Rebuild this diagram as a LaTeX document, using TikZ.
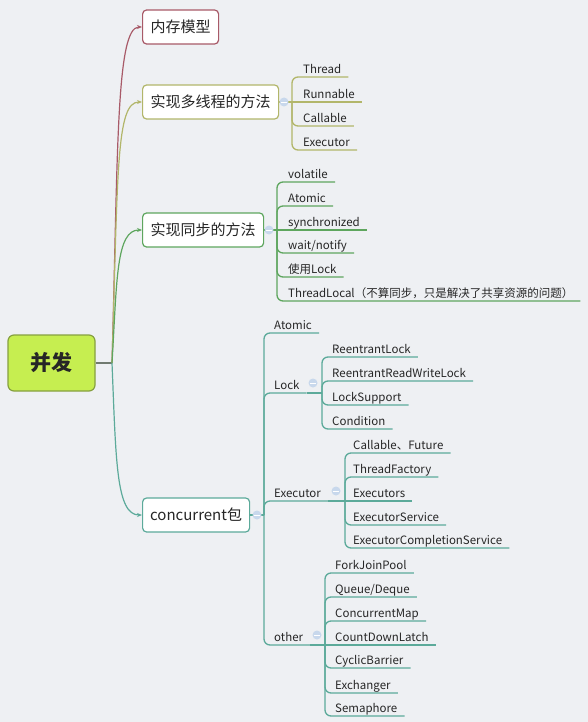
\documentclass[tikz,border=0pt]{standalone}
\usepackage{fontspec}
\setmainfont{Noto Sans CJK SC}
\usetikzlibrary{arrows.meta}
\definecolor{bg}{HTML}{EEF0F3}
\definecolor{txt}{HTML}{262626}
\definecolor{cred}{HTML}{A85A68}
\definecolor{colive}{HTML}{B2B66A}
\definecolor{cgreen}{HTML}{5EA65E}
\definecolor{cteal}{HTML}{5CAA9A}
\definecolor{rootfill}{HTML}{C6EE50}
\definecolor{rootdraw}{HTML}{86A040}
\definecolor{foldc}{HTML}{C8D8EC}
\definecolor{cgray}{HTML}{707A70}
\tikzset{
  mainbox/.style={draw, rounded corners=4pt, line width=1.2pt, fill=white, minimum height=34pt, anchor=west, font=\fontsize{15}{15}\selectfont, text=txt, inner sep=3pt},
  leaf/.style={anchor=south west, inner xsep=7pt, inner ysep=3.5pt, text depth=0pt, font=\fontsize{11.5}{12}\selectfont, text=txt},
  tie/.style={line width=1.3pt, rounded corners=6pt},
  maintie/.style={line width=1.2pt, -{Stealth[length=5pt,width=4pt]}},
  fold/.style={circle, fill=foldc, minimum size=9pt, inner sep=0pt},
}
\newcommand{\foldmark}[2]{\node[fold] (#1) at #2 {};
  \draw[white, line width=0.8pt] ([xshift=2pt]#1.west) -- ([xshift=-2pt]#1.east);}
\begin{document}
\begin{tikzpicture}[x=1pt,y=-1pt]
\useasboundingbox[fill=bg] (0,0) rectangle (588,722);

% root
\node[draw=rootdraw, fill=rootfill, line width=1.2pt, rounded corners=6pt, minimum width=87pt, minimum height=56pt, font=\fontsize{21}{21}\selectfont\bfseries, text=txt] (root) at (51.5,363) {并发};
\coordinate (j) at (112,363);

% main boxes
\node[mainbox, draw=cred, minimum width=76pt] (m1) at (142,27) {内存模型};
\node[mainbox, draw=colive, minimum width=136pt] (m2) at (142,102) {实现多线程的方法};
\node[mainbox, draw=cgreen, minimum width=121pt] (m3) at (142,230) {实现同步的方法};
\node[mainbox, draw=cteal, minimum width=107pt] (m4) at (142,515) {concurrent包};

\draw[cgray, line width=1.2pt] (root.east) -- (j);
\draw[maintie, cred] (j) .. controls (118,150) and (116,27) .. (m1.west);
\draw[maintie, colive] (j) .. controls (118,170) and (116,102) .. (m2.west);
\draw[maintie, cgreen] (j) .. controls (117,280) and (116,230) .. (m3.west);
\draw[maintie, cteal] (j) .. controls (116,460) and (116,515) .. (m4.west);

% multi-thread group
\node[leaf] (t1) at (296,77) {Thread};
\node[leaf] (t2) at (296,102) {Runnable};
\node[leaf] (t3) at (296,126) {Callable};
\node[leaf] (t4) at (296,150) {Executor};
\coordinate (b2) at (292,102);
\draw[tie, colive] (m2.east) -- (t2.south east);
\foreach \c in {t1,t3,t4} \draw[tie, colive] (b2) -- (b2 |- \c.south west) -- (\c.south east);
\foldmark{f2}{(284,102)}

% sync group
\node[leaf] (s1) at (281,182) {volatile};
\node[leaf] (s2) at (281,206) {Atomic};
\node[leaf] (s3) at (281,230) {synchronized};
\node[leaf] (s4) at (281,253) {wait/notify};
\node[leaf] (s5) at (281,277) {使用Lock};
\node[leaf] (s6) at (281,301) {ThreadLocal（不算同步，只是解决了共享资源的问题）};
\coordinate (b3) at (277,230);
\draw[tie, cgreen] (m3.east) -- (s3.south east);
\foreach \c in {s1,s2,s4,s5,s6} \draw[tie, cgreen] (b3) -- (b3 |- \c.south west) -- (\c.south east);
\foldmark{f3}{(269,230)}

% concurrent group
\node[leaf] (c1) at (267,333) {Atomic};
\node[leaf] (c2) at (267,393) {Lock};
\node[leaf] (c3) at (267,501) {Executor};
\node[leaf] (c4) at (267,645) {other};
\coordinate (b4) at (264,515);
\draw[tie, cteal] (m4.east) -- (b4);
\foreach \c in {c1,c2,c3,c4} \draw[tie, cteal] (b4) -- (b4 |- \c.south west) -- (\c.south east);

% Lock children
\node[leaf] (l1) at (325,357) {ReentrantLock};
\node[leaf] (l2) at (325,381) {ReentrantReadWriteLock};
\node[leaf] (l3) at (325,405) {LockSupport};
\node[leaf] (l4) at (325,429) {Condition};
\coordinate (bl) at (322,393);
\draw[tie, cteal] (c2.south east) -- (bl);
\foreach \c in {l1,l2,l3,l4} \draw[tie, cteal] (bl) -- (bl |- \c.south west) -- (\c.south east);

% Executor children
\node[leaf] (e1) at (346,453) {Callable、Future};
\node[leaf] (e2) at (346,477) {ThreadFactory};
\node[leaf] (e3) at (346,501) {Executors};
\node[leaf] (e4) at (346,525) {ExecutorService};
\node[leaf] (e5) at (346,548) {ExecutorCompletionService};
\coordinate (be) at (345,501);
\draw[tie, cteal] (c3.south east) -- (e3.south east);
\foreach \c in {e1,e2,e4,e5} \draw[tie, cteal] (be) -- (be |- \c.south west) -- (\c.south east);

% other children
\node[leaf] (o1) at (328,573) {ForkJoinPool};
\node[leaf] (o2) at (328,597) {Queue/Deque};
\node[leaf] (o3) at (328,621) {ConcurrentMap};
\node[leaf] (o4) at (328,645) {CountDownLatch};
\node[leaf] (o5) at (328,668) {CyclicBarrier};
\node[leaf] (o6) at (328,693) {Exchanger};
\node[leaf] (o7) at (328,716) {Semaphore};
\coordinate (bo) at (325,645);
\draw[tie, cteal] (c4.south east) -- (o4.south east);
\foreach \c in {o1,o2,o3,o5,o6,o7} \draw[tie, cteal] (bo) -- (bo |- \c.south west) -- (\c.south east);

% fold marks
\foldmark{f4}{(257,515)}
\foldmark{fl}{(313,383)}
\foldmark{fe}{(336,491)}
\foldmark{fo}{(317,635)}
\end{tikzpicture}
\end{document}
